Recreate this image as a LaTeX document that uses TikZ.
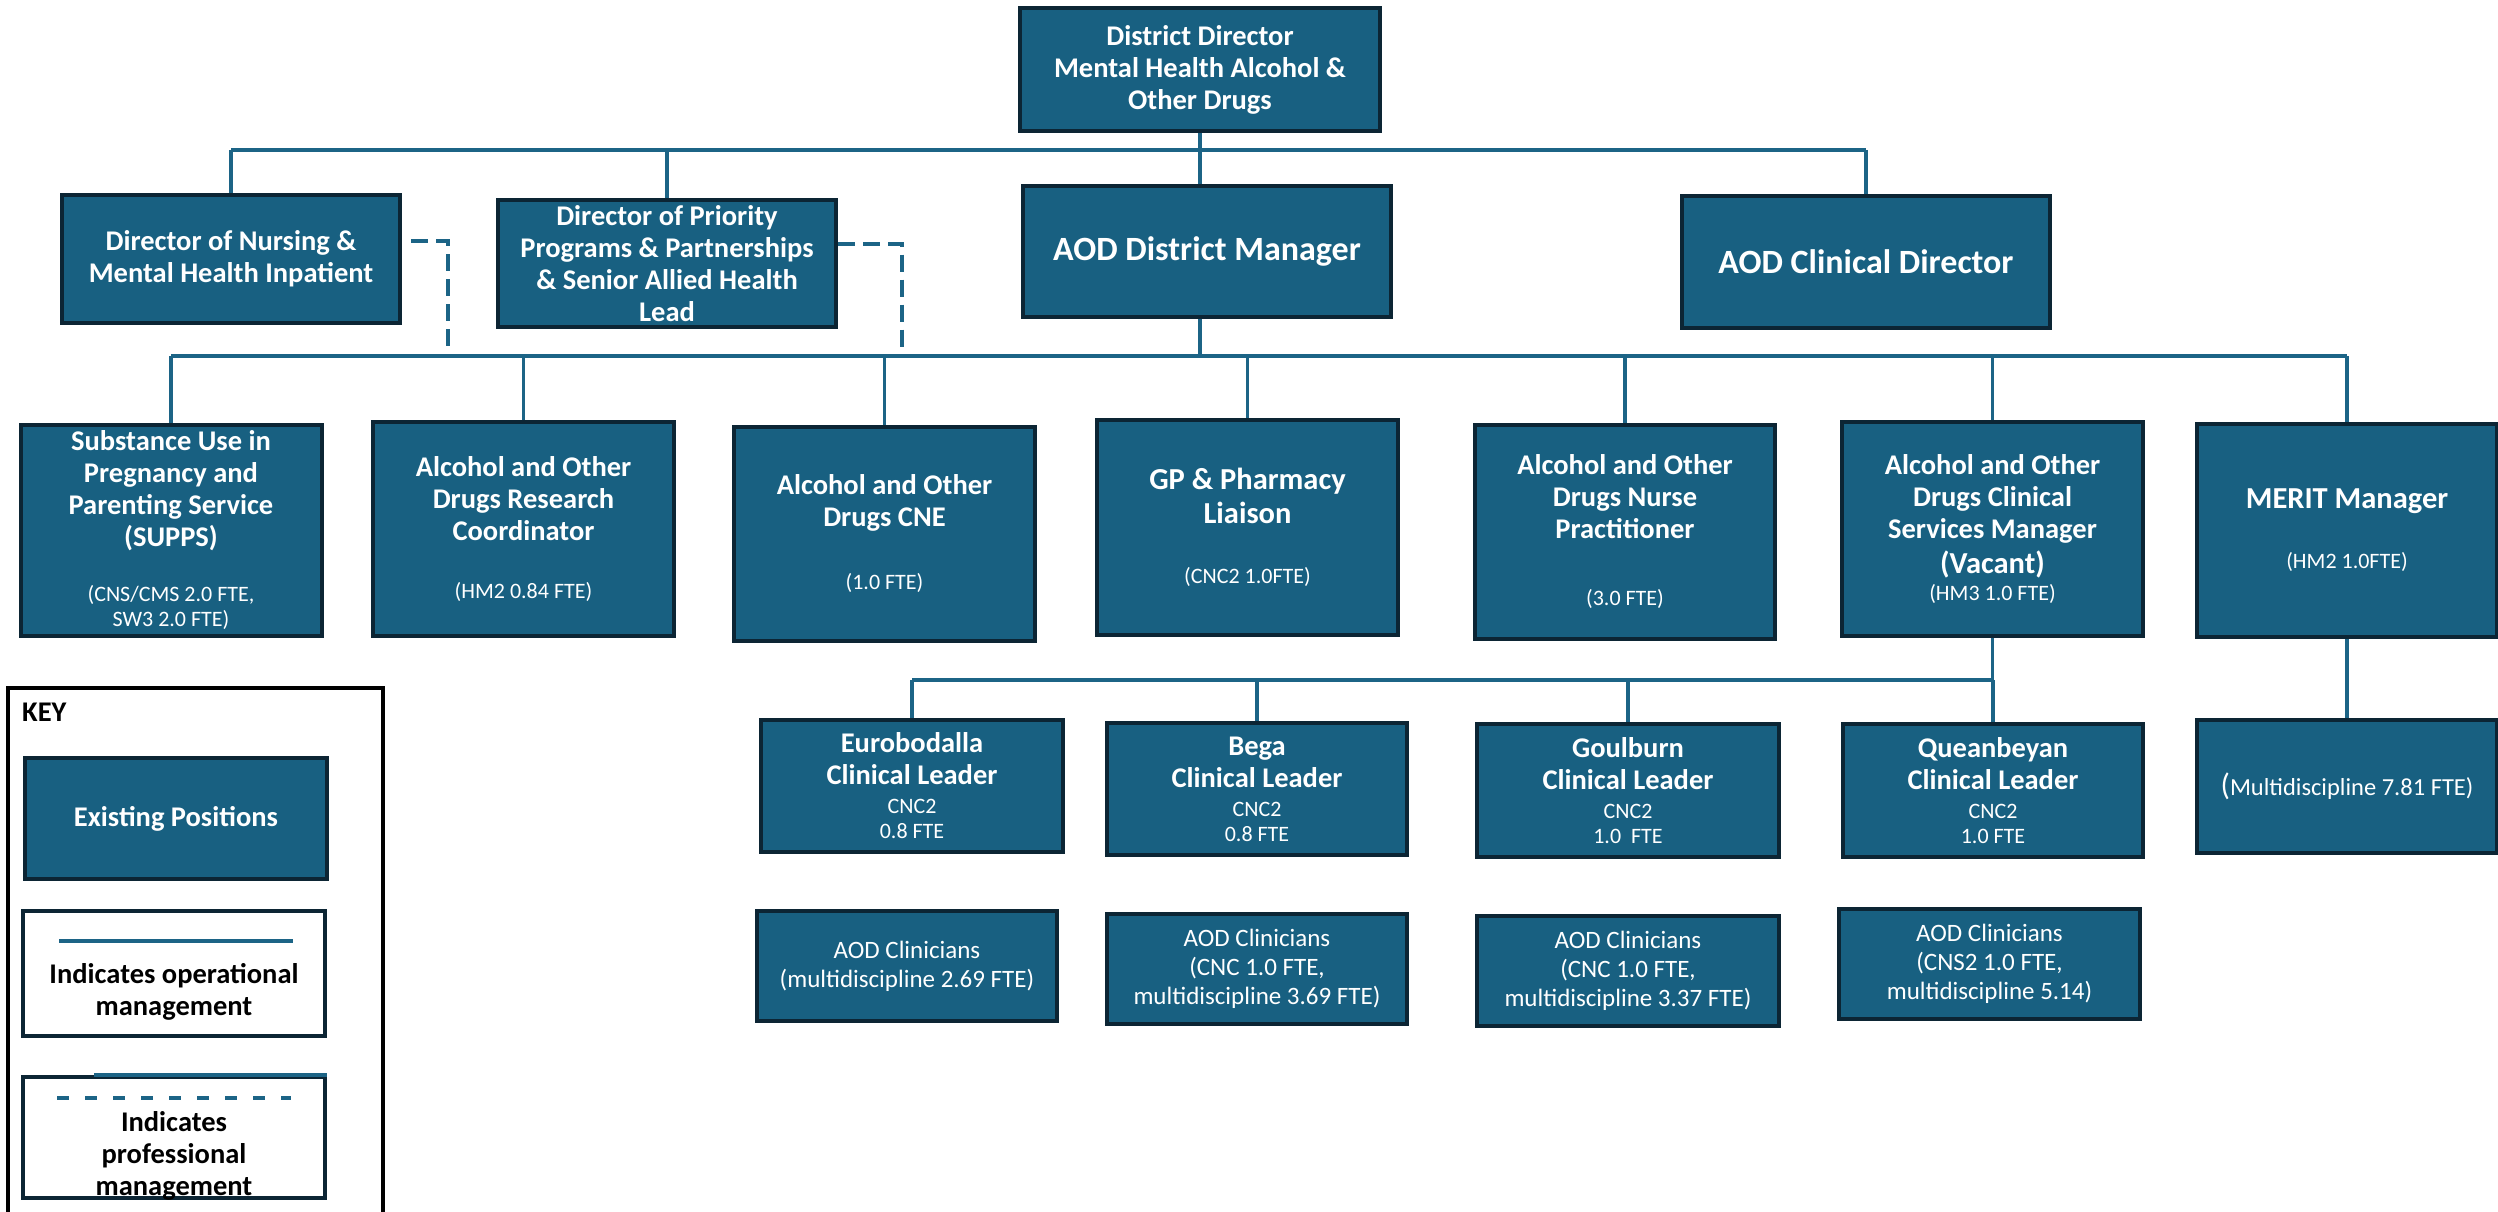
\documentclass[tikz,border=0pt]{standalone}
\usepackage{fontspec}
\setmainfont{Carlito}
\usetikzlibrary{calc}
\definecolor{boxc}{RGB}{24,96,129}
\definecolor{bordc}{RGB}{12,37,52}
\definecolor{linec}{RGB}{28,100,134}
\newcommand\FTitle{\bfseries\fontsize{28.5}{32}\selectfont}
\newcommand\FBig{\bfseries\fontsize{34}{40}\selectfont}
\newcommand\FMid{\bfseries\fontsize{30.5}{34}\selectfont}
\newcommand\FSmall{\mdseries\fontsize{22}{25}\selectfont}
\newcommand\FMulti{\mdseries\fontsize{24.5}{28}\selectfont}
\newcommand\FClin{\mdseries\fontsize{25}{29}\selectfont}
\begin{document}
\begin{tikzpicture}[x=1pt,y=-1pt,
  posbox/.style={draw=bordc, fill=boxc, line width=4pt, text=white, align=center, inner sep=0pt, font=\FTitle},
  keyb/.style={draw=bordc, fill=white, line width=4pt, inner sep=0pt},
  conn/.style={draw=linec, line width=3.5pt},
  bus/.style={draw=linec, line width=4.5pt},
  prof/.style={draw=linec, line width=4pt, dash pattern=on 17pt off 8pt},
]
\useasboundingbox[fill=white] (0,0) rectangle (2498,1212);

% ---- top
\node[posbox, minimum width=360pt, minimum height=123pt] (dd) at (1200,69.5)
  {District Director\\Mental Health Alcohol \&\\Other Drugs};

% ---- level 2
\node[posbox, minimum width=338pt, minimum height=128pt] (don) at (231,259)
  {Director of Nursing \&\\Mental Health Inpatient};
\node[posbox, minimum width=338pt, minimum height=127pt] (dpp) at (667,263.5)
  {Director of Priority\\Programs \& Partnerships\\\& Senior Allied Health\\Lead};
\node[posbox, minimum width=368pt, minimum height=131pt, font=\FBig] (dm) at (1207,251.5)
  {AOD District Manager};
\node[posbox, minimum width=368pt, minimum height=132pt, font=\FBig] (cd) at (1866,262)
  {AOD Clinical Director};

% ---- level 3
\node[posbox, minimum width=301pt, minimum height=211pt] (supps) at (171,530.5)
  {Substance Use in\\Pregnancy and\\Parenting Service\\(SUPPS)\\[23pt]
   {\FSmall (CNS/CMS 2.0 FTE,}\\[-7pt]{\FSmall SW3 2.0 FTE)}};
\node[posbox, minimum width=301pt, minimum height=214pt] (rc) at (523.5,529)
  {Alcohol and Other\\Drugs Research\\Coordinator\\[26pt]{\FSmall (HM2 0.84 FTE)}};
\node[posbox, minimum width=301pt, minimum height=214pt] (cne) at (884.5,534)
  {Alcohol and Other\\Drugs CNE\\[31pt]{\FSmall (1.0 FTE)}};
\node[posbox, minimum width=301pt, minimum height=215pt] (gp) at (1247.5,527.5)
  {{\FMid GP \& Pharmacy}\\[2pt]{\FMid Liaison}\\[28pt]{\FSmall (CNC2 1.0FTE)}};
\node[posbox, minimum width=300pt, minimum height=214pt] (np) at (1625,532)
  {Alcohol and Other\\Drugs Nurse\\Practitioner\\[35pt]{\FSmall (3.0 FTE)}};
\node[posbox, minimum width=301pt, minimum height=214pt] (csm) at (1992.5,529)
  {Alcohol and Other\\Drugs Clinical\\Services Manager\\[3.5pt]{\FMid (Vacant)}\\[-5pt]{\FSmall (HM3 1.0 FTE)}};
\node[posbox, minimum width=300pt, minimum height=213pt] (merit) at (2347,530.5)
  {{\FMid MERIT Manager}\\[28pt]{\FSmall (HM2 1.0FTE)}};

% ---- level 4
\node[posbox, minimum width=302pt, minimum height=132pt] (eur) at (912,786)
  {Eurobodalla\\Clinical Leader\\[-3pt]{\FSmall CNC2}\\[-7pt]{\FSmall 0.8 FTE}};
\node[posbox, minimum width=300pt, minimum height=132pt] (bega) at (1257,789)
  {Bega\\Clinical Leader\\[-3pt]{\FSmall CNC2}\\[-7pt]{\FSmall 0.8 FTE}};
\node[posbox, minimum width=302pt, minimum height=133pt] (goul) at (1628,790.5)
  {Goulburn\\Clinical Leader\\[-3pt]{\FSmall CNC2}\\[-7pt]{\FSmall 1.0\ \ FTE}};
\node[posbox, minimum width=300pt, minimum height=133pt] (quea) at (1993,790.5)
  {Queanbeyan\\Clinical Leader\\[-3pt]{\FSmall CNC2}\\[-7pt]{\FSmall 1.0 FTE}};
\node[posbox, minimum width=300pt, minimum height=133pt, font=\FMulti] (multi) at (2347,786.5)
  {{\fontsize{31}{31}\selectfont(}Multidiscipline 7.81 FTE)};

% ---- level 5
\node[posbox, minimum width=300pt, minimum height=110pt, font=\FClin] (cl1) at (907,966)
  {AOD Clinicians\\(multidiscipline 2.69 FTE)};
\node[posbox, minimum width=300pt, minimum height=110pt, font=\FClin] (cl2) at (1257,969)
  {AOD Clinicians\\(CNC 1.0 FTE,\\multidiscipline 3.69 FTE)};
\node[posbox, minimum width=302pt, minimum height=110pt, font=\FClin] (cl3) at (1628,971)
  {AOD Clinicians\\(CNC 1.0 FTE,\\multidiscipline 3.37 FTE)};
\node[posbox, minimum width=301pt, minimum height=110pt, font=\FClin] (cl4) at (1989.5,964)
  {AOD Clinicians\\(CNS2 1.0 FTE,\\multidiscipline 5.14)};

% ---- connectors
\coordinate (b1) at (0,150);
\coordinate (b2) at (0,356);
\coordinate (b3) at (0,680);
\draw[conn] (dd.south) -- (dd.south |- dm.north);
\draw[bus] (don.north |- b1) -- (cd.north |- b1);
\draw[conn] (don.north |- b1) -- (don.north);
\draw[conn] (dpp.north |- b1) -- (dpp.north);
\draw[conn] (cd.north |- b1) -- (cd.north);

\draw[conn] (dd.south |- dm.south) -- (dd.south |- b2);
\draw[bus] (supps.north |- b2) -- (merit.north |- b2);
\foreach \n in {supps,rc,cne,gp,np,csm,merit}
  \draw[conn] (\n.north |- b2) -- (\n.north);

\coordinate (d1) at (448,354);
\coordinate (d2) at (902,350);
\draw[prof] ($(don.east)+(9,-18)$) -| (d1);
\draw[prof] ($(dpp.east)+(0,-20)$) -| (d2);

\draw[conn] (csm.south) -- (csm.south |- b3);
\draw[bus] (eur.north |- b3) -- (quea.north |- b3);
\foreach \n in {eur,bega,goul,quea}
  \draw[conn] (\n.north |- b3) -- (\n.north);
\draw[conn] (merit.south) -- (multi.north);

% ---- key
\node[draw=black, line width=4pt, minimum width=375pt, minimum height=560pt, anchor=north west, inner sep=0pt] (key) at (6,686) {};
\node[anchor=west, inner sep=0pt, font=\FTitle] (keyt) at (22,712) {KEY};
\node[posbox, minimum width=302pt, minimum height=121pt] (keyex) at (176,818.5) {Existing Positions};
\node[keyb, minimum width=302pt, minimum height=125pt] (keyop) at (174,973.5) {};
\draw[draw=linec, line width=4pt] (59,941) -- (293,941);
\node[align=center, inner sep=0pt, font=\FTitle] (keyopt) at (174,992) {Indicates operational\\management};
\node[keyb, minimum width=302pt, minimum height=121pt] (keypr) at (174,1137.5) {};
\draw[draw=linec, line width=4pt] ($(keypr.north west)+(73,0)$) -- (keypr.north east);
\draw[draw=linec, line width=4pt, dash pattern=on 12pt off 16pt] (57,1098) -- (291,1098);
\node[align=center, inner sep=0pt, font=\FTitle] (keyprt) at (174,1156) {Indicates\\professional\\management};
\end{tikzpicture}
\end{document}
